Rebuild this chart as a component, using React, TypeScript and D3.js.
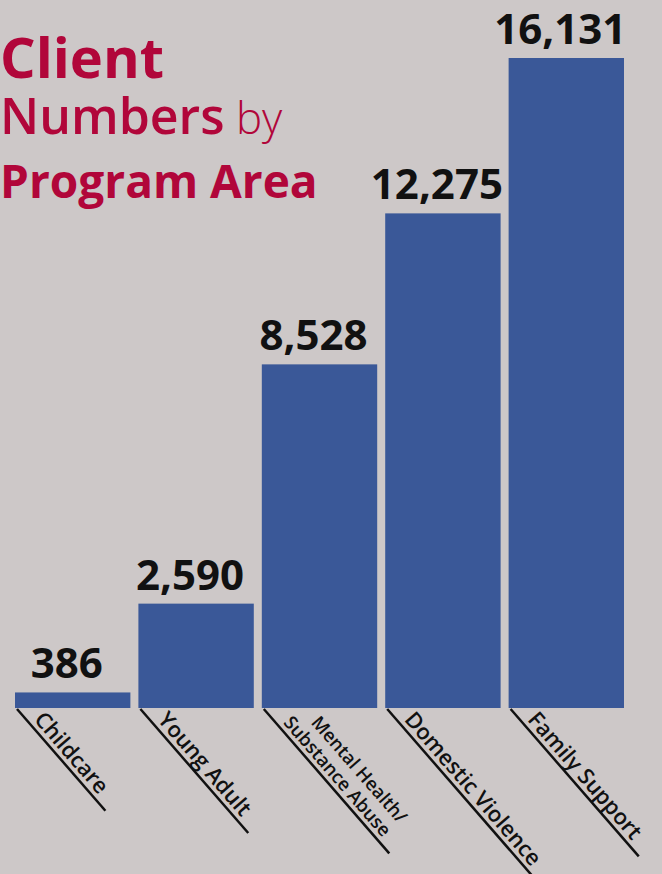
import React, { useEffect, useRef } from "react";
import * as d3 from "d3";

const categories = ["Childcare", "Young Adult", "Mental Health/\nSubstance Abuse", "Domestic Violence", "Family Support"];
const values = [386, 2590, 8528, 12275, 16131];
const titleLines = [
  [{ t: "Client", w: 700, s: 56 }],
  [{ t: "Numbers", w: 600, s: 50 }, { t: " by", w: 300, s: 44 }],
  [{ t: "Program Area", w: 700, s: 46 }],
];

const W = 662;
const H = 874;
const BG = "#cdc8c8";
const BAR = "#3a5898";
const TITLE = "#b1063a";
const FONT = "'Open Sans', 'Noto Sans', sans-serif";

export default function App() {
  const ref = useRef<SVGSVGElement | null>(null);

  useEffect(() => {
    document.body.style.margin = "0";
    const svg = d3.select(ref.current);
    svg.selectAll("*").remove();

    svg.append("rect").attr("width", W).attr("height", H).attr("fill", BG);

    const baseY = 708;
    const x = d3.scaleBand<string>().domain(categories).range([15, 624]).paddingInner(0.065).paddingOuter(0);
    const y = d3.scaleLinear().domain([0, 16131]).range([baseY, 58]);

    // title
    const baselines = [78, 134, 198];
    titleLines.forEach((parts, i) => {
      const t = svg.append("text").attr("x", 0).attr("y", baselines[i]).attr("fill", TITLE).attr("font-family", FONT);
      parts.forEach((p) => {
        t.append("tspan").attr("font-weight", p.w).attr("font-size", p.s).text(p.t);
      });
    });

    const g = svg.append("g");
    categories.forEach((c, i) => {
      const x0 = x(c)!;
      const bw = x.bandwidth();
      const v = values[i];
      g.append("rect").attr("x", x0).attr("y", y(v)).attr("width", bw).attr("height", baseY - y(v)).attr("fill", BAR);
      g.append("text")
        .attr("x", x0 + bw / 2 - 6)
        .attr("y", y(v) - 14)
        .attr("text-anchor", "middle")
        .attr("font-family", FONT)
        .attr("font-weight", 700)
        .attr("font-size", 42)
        .attr("fill", "#111")
        .text(d3.format(",")(v));

      // rotated label
      const lg = g.append("g").attr("transform", `translate(${x0 + 2},${baseY + 1}) rotate(49)`);
      const lines = c.split("\n");
      const start = 19;
      let maxEnd = 0;
      if (lines.length === 1) {
        const t = lg.append("text")
          .attr("x", start)
          .attr("y", -5)
          .attr("font-family", FONT)
          .attr("font-weight", 600)
          .attr("font-size", 22)
          .attr("fill", "#111")
          .text(lines[0]);
        maxEnd = start + (t.node() as SVGTextElement).getComputedTextLength();
      } else {
        const offs = [start + 22, start + 4];
        lines.forEach((ln, k) => {
          const t = lg.append("text")
            .attr("x", offs[k])
            .attr("y", -5 - (lines.length - 1 - k) * 21)
            .attr("font-family", FONT)
            .attr("font-weight", 600)
            .attr("font-size", 18.5)
            .attr("fill", "#111")
            .text(ln);
          maxEnd = Math.max(maxEnd, offs[k] + (t.node() as SVGTextElement).getComputedTextLength());
        });
      }
      lg.append("line")
        .attr("x1", 0).attr("y1", 0)
        .attr("x2", maxEnd + 16).attr("y2", 0)
        .attr("stroke", "#111").attr("stroke-width", 2.5);
    });
  }, []);

  return <svg ref={ref} width={W} height={H} style={{ display: "block", position: "absolute", left: 0, top: 0 }} />;
}
